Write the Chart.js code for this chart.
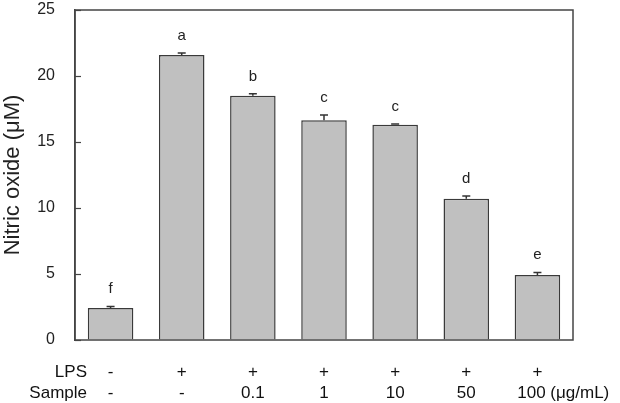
<!DOCTYPE html>
<html>
<head>
<meta charset="utf-8">
<script src="https://cdn.jsdelivr.net/npm/chart.js@4"></script>
<style>
  html, body { margin: 0; padding: 0; background: #fff; }
  #wrap { width: 620px; height: 403px; }
</style>
</head>
<body>
<div id="wrap"><canvas id="noChart"></canvas></div>
<script>
// data
const lpsRow = ['-', '+', '+', '+', '+', '+', '+'];
const sampleRow = ['-', '-', '0.1', '1', '10', '50', '100 (μg/mL)'];
const noValues = [2.42, 21.6, 18.5, 16.65, 16.3, 10.7, 4.92];
const noErrors = [0.12, 0.15, 0.15, 0.4, 0.06, 0.2, 0.2];
const sigLetters = ['f', 'a', 'b', 'c', 'c', 'd', 'e'];
const yTicks = [0, 5, 10, 15, 20, 25];

const FONT = 'Liberation Sans, Arial, sans-serif';

// error bars, letters, inward ticks, frame and the two label rows underneath
const extras = {
    id: 'extras',
    afterDatasetsDraw(chart) {
        const ctx = chart.ctx;
        const x = chart.scales.x, y = chart.scales.y;
        const area = chart.chartArea;
        ctx.save();
        ctx.strokeStyle = '#333';
        ctx.lineWidth = 1.5;
        noValues.forEach((v, i) => {
            const cx = x.getPixelForValue(i);
            const yTop = y.getPixelForValue(v + noErrors[i]);
            const yBar = y.getPixelForValue(v);
            ctx.beginPath();
            ctx.moveTo(cx, yBar);
            ctx.lineTo(cx, yTop);
            ctx.moveTo(cx - 4, yTop);
            ctx.lineTo(cx + 4, yTop);
            ctx.stroke();
        });
        ctx.fillStyle = '#222';
        ctx.font = '15px ' + FONT;
        ctx.textAlign = 'center';
        ctx.textBaseline = 'alphabetic';
        noValues.forEach((v, i) => {
            ctx.fillText(sigLetters[i], x.getPixelForValue(i), y.getPixelForValue(v + noErrors[i]) - 13);
        });
        // inward tick marks
        ctx.strokeStyle = '#444';
        ctx.lineWidth = 1.2;
        yTicks.forEach(t => {
            const py = Math.round(y.getPixelForValue(t)) + 0.5;
            ctx.beginPath();
            ctx.moveTo(area.left, py);
            ctx.lineTo(area.left + 6, py);
            ctx.stroke();
        });
        // frame
        ctx.lineWidth = 1.5;
        ctx.strokeRect(area.left, area.top, area.right - area.left, area.bottom - area.top);
        // label rows
        ctx.font = '17px ' + FONT;
        ctx.fillStyle = '#111';
        ctx.textAlign = 'right';
        ctx.fillText('LPS', 87, 377);
        ctx.fillText('Sample', 87, 398);
        lpsRow.forEach((t, i) => {
            ctx.textAlign = 'center';
            ctx.fillText(t, x.getPixelForValue(i), 377);
        });
        sampleRow.forEach((t, i) => {
            const cx = x.getPixelForValue(i);
            if (t.indexOf('(') > 0) {
                const num = t.split(' ')[0];
                const w = ctx.measureText(num).width;
                ctx.textAlign = 'left';
                ctx.fillText(t, cx - w / 2 - 6, 398);
            } else {
                ctx.textAlign = 'center';
                ctx.fillText(t, cx, 398);
            }
        });
        ctx.restore();
    }
};

new Chart(document.getElementById('noChart').getContext('2d'), {
    type: 'bar',
    data: {
        labels: sampleRow,
        datasets: [{
            label: 'Nitric oxide',
            data: noValues,
            backgroundColor: '#c0c0c0',
            borderColor: '#3a3a3a',
            borderWidth: 1.5,
            barPercentage: 0.64,
            categoryPercentage: 1
        }]
    },
    options: {
        responsive: true,
        maintainAspectRatio: false,
        animation: false,
        events: [],
        layout: { padding: { left: 0, top: 10, right: 47, bottom: 63 } },
        plugins: { legend: { display: false }, tooltip: { enabled: false } },
        scales: {
            x: { display: false },
            y: {
                min: 0,
                max: 25,
                afterBuildTicks: s => { s.ticks = yTicks.map(v => ({ value: v })); },
                afterFit: s => { s.width = 75; s.paddingTop = 0; s.paddingBottom = 0; },
                grid: { drawOnChartArea: false, drawTicks: false, tickLength: 0 },
                border: { color: '#444', width: 1.5 },
                ticks: { color: '#222', font: { family: FONT, size: 16 }, padding: 20 },
                title: {
                    display: true,
                    text: 'Nitric oxide (μM)',
                    color: '#222',
                    font: { family: FONT, size: 22 },
                    padding: { top: 0, bottom: 0 }
                }
            }
        }
    },
    plugins: [extras]
});
</script>
</body>
</html>
